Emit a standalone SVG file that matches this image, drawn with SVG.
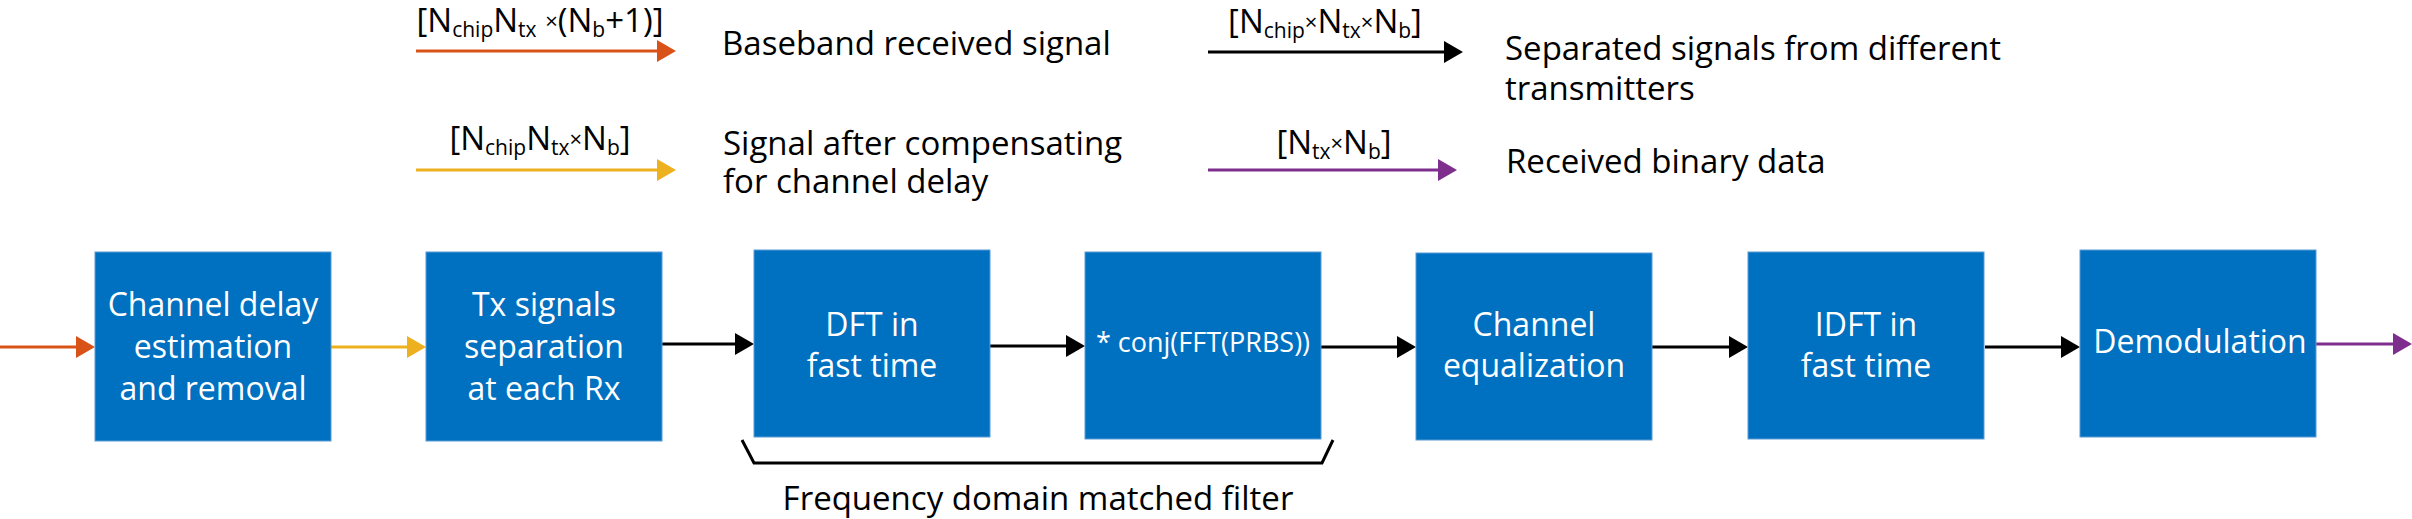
<svg xmlns="http://www.w3.org/2000/svg" width="2412" height="519" viewBox="0 0 2412 519">
<style>
  text { font-family: "Open Sans", "Noto Sans", "Liberation Sans", sans-serif; }
  .box { fill: #0070C0; stroke: #5B9BD5; stroke-width: 1; }
  .bt { fill: #ffffff; font-size: 32px; text-anchor: middle; }
  .lt { fill: #000000; font-size: 33px; }
  .lbl { fill: #000000; font-size: 33px; text-anchor: middle; }
  .sub { font-size: 21px; }
  .mul { font-size: 22px; }
  .a { fill: none; stroke-width: 3; }
  .or { stroke: #D95319; }
  .ye { stroke: #EDB120; }
  .bk { stroke: #000000; }
  .pu { stroke: #7E2F8E; }
</style>
<defs>
  <marker id="hOr" markerUnits="userSpaceOnUse" markerWidth="19" markerHeight="22" refX="0" refY="11" orient="auto"><path d="M0,0 L19,11 L0,22 z" fill="#D95319"/></marker>
  <marker id="hYe" markerUnits="userSpaceOnUse" markerWidth="19" markerHeight="22" refX="0" refY="11" orient="auto"><path d="M0,0 L19,11 L0,22 z" fill="#EDB120"/></marker>
  <marker id="hBk" markerUnits="userSpaceOnUse" markerWidth="19" markerHeight="22" refX="0" refY="11" orient="auto"><path d="M0,0 L19,11 L0,22 z" fill="#000000"/></marker>
  <marker id="hPu" markerUnits="userSpaceOnUse" markerWidth="19" markerHeight="22" refX="0" refY="11" orient="auto"><path d="M0,0 L19,11 L0,22 z" fill="#7E2F8E"/></marker>
</defs>

<g id="legend">
  <g id="legend-baseband">
    <text class="lbl" x="540" y="32">[N<tspan class="sub" dy="5">chip</tspan><tspan dy="-5">N</tspan><tspan class="sub" dy="5">tx</tspan><tspan dy="-5"> </tspan><tspan class="mul" dy="-3">×</tspan><tspan dy="3">(N</tspan><tspan class="sub" dy="5">b</tspan><tspan dy="-5">+1)]</tspan></text>
    <line class="a or" x1="416" y1="51" x2="657" y2="51" marker-end="url(#hOr)"/>
    <text class="lt" x="722" y="55">Baseband received signal</text>
  </g>
  <g id="legend-compensated">
    <text class="lbl" x="540" y="150">[N<tspan class="sub" dy="5">chip</tspan><tspan dy="-5">N</tspan><tspan class="sub" dy="5">tx</tspan><tspan class="mul" dy="-8">×</tspan><tspan dy="3">N</tspan><tspan class="sub" dy="5">b</tspan><tspan dy="-5">]</tspan></text>
    <line class="a ye" x1="416" y1="170" x2="657" y2="170" marker-end="url(#hYe)"/>
    <text class="lt" x="723" y="155">Signal after compensating</text>
    <text class="lt" x="723" y="193">for channel delay</text>
  </g>
  <g id="legend-separated">
    <text class="lbl" x="1325" y="33">[N<tspan class="sub" dy="5">chip</tspan><tspan class="mul" dy="-8">×</tspan><tspan dy="3">N</tspan><tspan class="sub" dy="5">tx</tspan><tspan class="mul" dy="-8">×</tspan><tspan dy="3">N</tspan><tspan class="sub" dy="5">b</tspan><tspan dy="-5">]</tspan></text>
    <line class="a bk" x1="1208" y1="52" x2="1444" y2="52" marker-end="url(#hBk)"/>
    <text class="lt" x="1505" y="60">Separated signals from different</text>
    <text class="lt" x="1505" y="100">transmitters</text>
  </g>
  <g id="legend-binary">
    <text class="lbl" x="1334" y="154">[N<tspan class="sub" dy="5">tx</tspan><tspan class="mul" dy="-8">×</tspan><tspan dy="3">N</tspan><tspan class="sub" dy="5">b</tspan><tspan dy="-5">]</tspan></text>
    <line class="a pu" x1="1208" y1="170" x2="1438" y2="170" marker-end="url(#hPu)"/>
    <text class="lt" x="1506" y="173">Received binary data</text>
  </g>
</g>

<g id="connectors">
  <line class="a or" x1="0" y1="347" x2="76" y2="347" marker-end="url(#hOr)"/>
  <line class="a ye" x1="331" y1="347" x2="407" y2="347" marker-end="url(#hYe)"/>
  <line class="a bk" x1="662" y1="344" x2="735" y2="344" marker-end="url(#hBk)"/>
  <line class="a bk" x1="990" y1="346" x2="1066" y2="346" marker-end="url(#hBk)"/>
  <line class="a bk" x1="1321" y1="347" x2="1397" y2="347" marker-end="url(#hBk)"/>
  <line class="a bk" x1="1652" y1="347" x2="1729" y2="347" marker-end="url(#hBk)"/>
  <line class="a bk" x1="1985" y1="347" x2="2061" y2="347" marker-end="url(#hBk)"/>
  <line class="a pu" x1="2316" y1="344" x2="2393" y2="344" marker-end="url(#hPu)"/>
</g>

<g id="node-delay">
  <rect class="box" x="95" y="252" width="236" height="189"/>
  <text class="bt" x="213" y="316">Channel delay</text>
  <text class="bt" x="213" y="358">estimation</text>
  <text class="bt" x="213" y="400">and removal</text>
</g>
<g id="node-separation">
  <rect class="box" x="426" y="252" width="236" height="189"/>
  <text class="bt" x="544" y="316">Tx signals</text>
  <text class="bt" x="544" y="358">separation</text>
  <text class="bt" x="544" y="400">at each Rx</text>
</g>
<g id="node-dft">
  <rect class="box" x="754" y="250" width="236" height="187"/>
  <text class="bt" x="872" y="336">DFT in</text>
  <text class="bt" x="872" y="377">fast time</text>
</g>
<g id="node-conj">
  <rect class="box" x="1085" y="252" width="236" height="187"/>
  <text class="bt" x="1203" y="352" style="font-size:27px">* conj(FFT(PRBS))</text>
</g>
<g id="node-equalization">
  <rect class="box" x="1416" y="253" width="236" height="187"/>
  <text class="bt" x="1534" y="336">Channel</text>
  <text class="bt" x="1534" y="377">equalization</text>
</g>
<g id="node-idft">
  <rect class="box" x="1748" y="252" width="236" height="187"/>
  <text class="bt" x="1866" y="336">IDFT in</text>
  <text class="bt" x="1866" y="377">fast time</text>
</g>
<g id="node-demod">
  <rect class="box" x="2080" y="250" width="236" height="187"/>
  <text class="bt" x="2200" y="353">Demodulation</text>
</g>

<g id="matched-filter-brace">
  <polyline points="742,440 754,463 1322,463 1333,440" fill="none" stroke="#000000" stroke-width="3" stroke-linejoin="miter"/>
  <text class="lt" x="1038" y="510" text-anchor="middle">Frequency domain matched filter</text>
</g>
</svg>
